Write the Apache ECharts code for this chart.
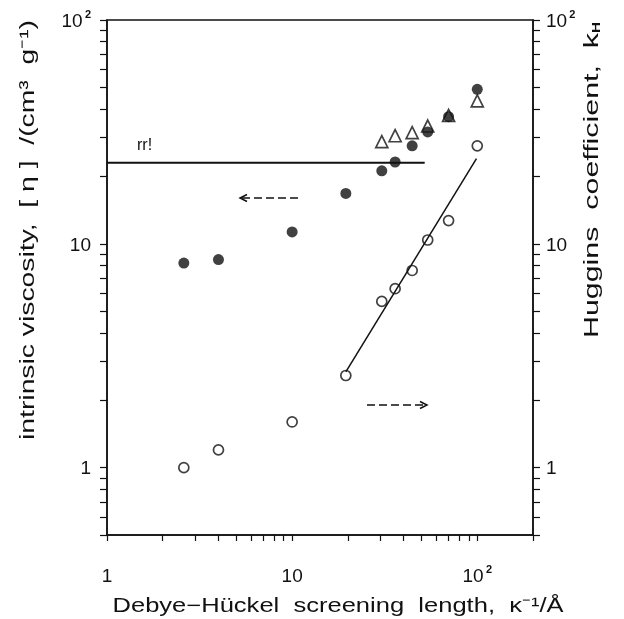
<!DOCTYPE html>
<html><head><meta charset="utf-8">
<script src="https://cdn.jsdelivr.net/npm/echarts@6/dist/echarts.min.js"></script>
<style>html,body{margin:0;padding:0;background:#fff}#c{width:624px;height:619px}</style>
</head><body><div id="c"></div>
<script>
// filled circles: intrinsic viscosity (left axis)
const kappaFilled = [2.6, 4, 10, 19.5, 30.5, 36, 44.5, 54, 70, 100];
const viscosity = [8.2, 8.5, 11.3, 16.8, 21.2, 23.2, 27.4, 31.6, 37, 49];
// open triangles (left axis)
const kappaTri = [30.5, 36, 44.5, 54, 70, 100];
const viscosityTri = [28.6, 30.4, 31.4, 33.6, 37.5, 43.5];
// open circles: Huggins coefficient (right axis)
const kappaOpen = [2.6, 4, 10, 19.5, 30.5, 36, 44.5, 54, 70, 100];
const huggins = [1.0, 1.2, 1.6, 2.58, 5.53, 6.3, 7.6, 10.4, 12.7, 27.4];
// fitted line through open circles (right axis)
const fitKappa = [19.5, 99];
const fitHuggins = [2.68, 24];
// horizontal reference line "rr!" (left axis)
const refKappa = [1, 52];
const refViscosity = [23, 23];
// ticks
const xMajor = [1, 10, 100];
const xTicks = [1,2,3,4,5,6,7,8,9,10,20,30,40,50,60,70,80,90,100,200];
const yMajor = [1, 10, 100];
const yTicks = [0.5,0.6,0.7,0.8,0.9,1,2,3,4,5,6,7,8,9,10,20,30,40,50,60,70,80,90,100];

const INK = '#111';
const FONT = '"Liberation Sans", Arial, sans-serif';
function fmt(v){ return v === 100 ? '{n|10}{g| }{s|2}' : '{n|' + v + '}'; }
const rich = {
  n: {fontSize: 19, lineHeight: 22, fontFamily: FONT, color: INK, verticalAlign: 'bottom'},
  g: {fontSize: 8, lineHeight: 22, fontFamily: FONT, color: INK},
  s: {fontSize: 11, lineHeight: 11, fontWeight: 'bold', fontFamily: FONT, color: INK, verticalAlign: 'top'}
};

// stretch titles so they span the same length as in the figure
const mctx = document.createElement('canvas').getContext('2d');
function textW(t, font){ mctx.font = font; return mctx.measureText(t).width; }
const TF = '20px ' + FONT;
const leftTitle = 'intrinsic viscosity,  [ η ]  /(cm³  g⁻¹)';
const xTitle = 'Debye−Hückel  screening  length,  κ⁻¹/Å';
const rightMain = 'Huggins  coefficient,  k';
const sLeft = 420 / textW(leftTitle, TF);
const sX = 451 / textW(xTitle, TF);
const sRight = 316 / (textW(rightMain, TF) + textW('H', 'bold 10px ' + FONT));

const chart = echarts.init(document.getElementById('c'));
chart.setOption({
  animation: false,
  backgroundColor: '#fff',
  grid: {left: 107, right: 91, top: 20, bottom: 84, show: true, borderColor: INK, borderWidth: 1.5, backgroundColor: 'transparent'},
  xAxis: {
    type: 'log', logBase: 10, min: 1, max: 200,
    axisLine: {lineStyle: {color: INK, width: 1.5}},
    axisTick: {show: true, inside: false, length: 6, customValues: xTicks, lineStyle: {color: INK, width: 1.2}},
    axisLabel: {customValues: xMajor, margin: 29, formatter: fmt, rich: rich},
    splitLine: {show: false}, minorTick: {show: false}
  },
  yAxis: [{
    type: 'log', logBase: 10, min: 0.5, max: 100, position: 'left',
    axisLine: {show: true, lineStyle: {color: INK, width: 1.5}},
    axisTick: {show: true, inside: false, length: 7, customValues: yTicks, lineStyle: {color: INK, width: 1.2}},
    axisLabel: {customValues: yMajor, margin: 16, formatter: fmt, rich: rich},
    splitLine: {show: false}
  }, {
    type: 'log', logBase: 10, min: 0.5, max: 100, position: 'right',
    axisLine: {show: true, lineStyle: {color: INK, width: 1.5}},
    axisTick: {show: true, inside: false, length: 7, customValues: yTicks, lineStyle: {color: INK, width: 1.2}},
    axisLabel: {customValues: yMajor, margin: 13, formatter: fmt, rich: rich},
    splitLine: {show: false}
  }],
  series: [
    {type: 'line', yAxisIndex: 0, data: refKappa.map((x, i) => [x, refViscosity[i]]), showSymbol: false, symbol: 'none', lineStyle: {color: INK, width: 2}, silent: true},
    {type: 'line', yAxisIndex: 1, data: fitKappa.map((x, i) => [x, fitHuggins[i]]), showSymbol: false, symbol: 'none', lineStyle: {color: INK, width: 1.5}, silent: true},
    {type: 'scatter', yAxisIndex: 0, data: kappaTri.map((x, i) => [x, viscosityTri[i]]), symbol: 'triangle', symbolSize: 12, itemStyle: {color: '#fff', borderColor: INK, borderWidth: 1.7}},
    {type: 'scatter', yAxisIndex: 0, data: kappaFilled.map((x, i) => [x, viscosity[i]]), symbol: 'circle', symbolSize: 11, itemStyle: {color: INK}},
    {type: 'scatter', yAxisIndex: 1, data: kappaOpen.map((x, i) => [x, huggins[i]]), symbol: 'circle', symbolSize: 10, itemStyle: {color: '#fff', borderColor: INK, borderWidth: 1.7}}
  ],
  graphic: [
    {type: 'text', x: 137, y: 146, style: {text: 'rr!', font: '16px ' + FONT, fill: INK, textVerticalAlign: 'middle'}},
    {type: 'line', shape: {x1: 242, y1: 198, x2: 298, y2: 198}, style: {stroke: INK, lineWidth: 1.6, lineDash: [8, 4]}},
    {type: 'polyline', shape: {points: [[247, 194.5], [240, 198], [247, 201.5]]}, style: {stroke: INK, lineWidth: 1.5, fill: null}},
    {type: 'line', shape: {x1: 367, y1: 405, x2: 424, y2: 405}, style: {stroke: INK, lineWidth: 1.6, lineDash: [8, 4]}},
    {type: 'polyline', shape: {points: [[420, 401.5], [427, 405], [420, 408.5]]}, style: {stroke: INK, lineWidth: 1.5, fill: null}},
    {type: 'text', x: 28, y: 230, rotation: Math.PI / 2, scaleX: sLeft, style: {text: leftTitle, font: TF, fill: INK, textAlign: 'center', textVerticalAlign: 'middle'}},
    {type: 'text', x: 338, y: 606, scaleX: sX, style: {text: xTitle, font: TF, fill: INK, textAlign: 'center', textVerticalAlign: 'middle'}},
    {type: 'text', x: 592, y: 180, rotation: Math.PI / 2, scaleX: sRight, style: {
      text: '{t|' + rightMain + '}{h|H}', textAlign: 'center', textVerticalAlign: 'middle',
      rich: {t: {font: TF, fill: INK}, h: {font: 'bold 10px ' + FONT, fill: INK, verticalAlign: 'bottom'}}
    }}
  ]
});
</script></body></html>
